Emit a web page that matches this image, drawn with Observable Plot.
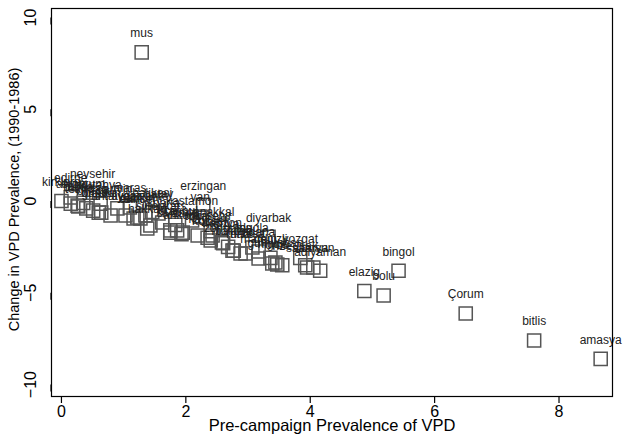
<!DOCTYPE html>
<html>
<head>
<meta charset="utf-8">
<script src="https://cdn.jsdelivr.net/npm/d3@7"></script>
<script src="https://cdn.jsdelivr.net/npm/@observablehq/plot@0.6"></script>
<style>
  body { margin: 0; background: #fff; }
  #chart { width: 624px; height: 438px; }
</style>
</head>
<body>
<div id="chart"></div>
<script>
// Province names (8-character labels), pre-campaign VPD prevalence, and change 1986–1990
const provinces = [
  "kirklare", "edirne", "bursa", "nevsehir", "kutahya", "giresun", "maras", "balikesi",
  "erzingan", "van", "kars", "ankara", "canakkal", "zongulda", "diyarbak", "adana",
  "denizli", "gumushan", "yozgat", "adiyaman", "elazig", "bolu", "bingol", "Çorum",
  "bitlis", "amasya", "mus",
  "afyon", "agri", "bilecik", "burdur", "antalya", "artvin", "aydin", "cankiri",
  "eskisehi", "gaziante", "hakkari", "hatay", "isparta", "icel", "istanbul", "izmir",
  "kastamon", "kayseri", "kirsehir", "kocaeli", "konya", "malatya", "manisa", "mardin",
  "mugla", "nigde", "ordu", "rize", "sakarya", "samsun", "siirt", "sinop",
  "sivas", "tokat", "trabzon", "tunceli", "urfa", "usak", "erzurum", "tekirdag"
];
const prevalence = [
  0.00, 0.15, 0.27, 0.50, 0.63, 0.64, 1.10, 1.46,
  2.28, 2.23, 1.83, 1.93, 2.40, 2.68, 3.33, 3.17,
  3.36, 3.44, 3.84, 4.16, 4.87, 5.18, 5.42, 6.50,
  7.60, 8.67, 1.29,
  0.15, 0.26, 0.51, 0.60, 0.79, 0.90, 1.03, 1.22,
  1.27, 1.35, 1.38, 1.56, 1.62, 1.75, 1.86, 1.95,
  2.10, 2.35, 2.43, 2.40, 2.60, 2.75, 2.96, 3.17,
  3.07, 3.39, 3.47, 3.55, 3.95, 4.05, 1.16, 1.43,
  1.75, 2.19, 2.58, 2.77, 2.88, 3.92, 0.35, 0.40
];
const change = [
   0.00,  0.20, -0.30,  0.45, -0.15, -0.63, -0.35, -0.60,
  -0.20, -0.85, -1.30, -1.80, -1.65, -2.50, -1.95, -2.75,
  -3.10, -3.35, -3.10, -3.80, -4.90, -5.15, -3.80, -6.13,
  -7.60, -8.60,  8.10,
  -0.14, -0.25, -0.52, -0.63, -0.79, -0.40, -0.79, -0.90,
  -0.95, -0.79, -1.50, -0.68, -1.17, -1.60, -1.60, -1.72,
  -1.06, -2.00, -1.88, -2.15, -2.30, -2.70, -2.86, -3.13,
  -2.53, -3.40, -3.46, -3.50, -3.62, -3.62, -0.95, -1.33,
  -1.72, -1.88, -2.25, -2.70, -2.86, -3.50, -0.10, -0.40
];
const xTicks = [0, 2, 4, 6, 8];
const yTicks = [-10, -5, 0, 5, 10];
const xTitle = "Pre-campaign Prevalence of VPD";
const yTitle = "Change in VPD Prevalence, (1990-1986)";

const rows = provinces.map((name, i) => ({name, pre: prevalence[i], change: change[i]}));

const chart = Plot.plot({
  width: 624,
  height: 438,
  marginLeft: 51,
  marginRight: 12,
  marginTop: 8,
  marginBottom: 42,
  style: {fontFamily: "'Liberation Sans', Arial, sans-serif", background: "#fff", color: "#000"},
  x: {domain: [-0.16, 8.86]},
  y: {domain: [-10.65, 10.49]},
  marks: [
    Plot.axisX({ticks: xTicks, tickSize: 7, tickPadding: 2, fontSize: 16, label: null, stroke: "#000", strokeWidth: 1.2}),
    Plot.axisY({ticks: yTicks, tickSize: 7, tickPadding: 14, fontSize: 16, rotate: -90, textAnchor: "middle", label: null, stroke: "#000", strokeWidth: 1.2}),
    Plot.text([xTitle], {text: d => d, frameAnchor: "bottom", dy: 34, fontSize: 16.5, fill: "#000"}),
    Plot.text([yTitle], {text: d => d, frameAnchor: "left", textAnchor: "middle", rotate: -90, dx: -37, dy: -3, fontSize: 14.5, fill: "#000"}),
    Plot.dot(rows, {x: "pre", y: "change", symbol: "square", r: 7.4, stroke: "#555", strokeWidth: 1.5, fill: "none"}),
    Plot.text(rows, {x: "pre", y: "change", text: "name", dy: -19, fontSize: 12, fill: "#222"}),
    Plot.frame({stroke: "#000", strokeWidth: 1.2})
  ]
});
document.getElementById("chart").appendChild(chart);
</script>
</body>
</html>
